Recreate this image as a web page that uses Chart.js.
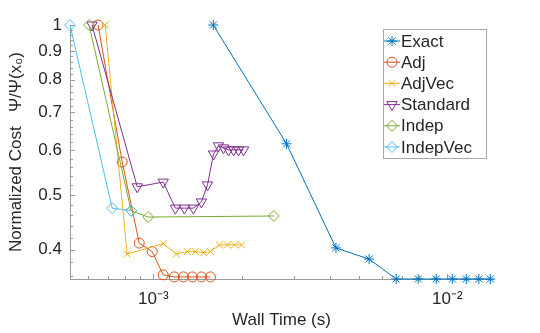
<!DOCTYPE html>
<html>
<head>
<meta charset="utf-8">
<script src="https://cdn.jsdelivr.net/npm/chart.js@4.4.1/dist/chart.umd.min.js"></script>
<style>
  html, body { margin: 0; padding: 0; background: #fff; }
</style>
</head>
<body>
<canvas id="costChart" width="540" height="333"></canvas>
<script>
// wall time (s) / normalized cost, one pair of arrays per method
const exactTime = [1.60e-3, 2.84e-3, 4.18e-3, 5.42e-3, 6.70e-3, 7.96e-3, 9.17e-3, 1.04e-2, 1.16e-2, 1.28e-2, 1.40e-2];
const exactCost = [1.0, 0.616, 0.403, 0.385, 0.355, 0.355, 0.355, 0.355, 0.355, 0.355, 0.355];

const adjTime = [6.49e-4, 7.84e-4, 8.96e-4, 9.92e-4, 1.081e-3, 1.179e-3, 1.266e-3, 1.358e-3, 1.458e-3, 1.565e-3];
const adjCost = [1.0, 0.572, 0.411, 0.397, 0.361, 0.358, 0.358, 0.358, 0.358, 0.358];

const adjVecTime = [6.86e-4, 8.15e-4, 1.081e-3, 1.198e-3, 1.306e-3, 1.390e-3, 1.483e-3, 1.565e-3, 1.680e-3, 1.789e-3, 1.890e-3, 1.996e-3];
const adjVecCost = [1.0, 0.393, 0.410, 0.393, 0.397, 0.397, 0.395, 0.397, 0.408, 0.408, 0.408, 0.408];

const standardTime = [6.19e-4, 8.82e-4, 1.081e-3, 1.189e-3, 1.276e-3, 1.369e-3, 1.458e-3, 1.529e-3, 1.603e-3, 1.666e-3, 1.733e-3, 1.803e-3, 1.876e-3, 1.950e-3, 2.028e-3];
const standardCost = [1.0, 0.517, 0.527, 0.474, 0.474, 0.474, 0.486, 0.521, 0.591, 0.611, 0.606, 0.601, 0.601, 0.601, 0.601];

const indepTime = [6.05e-4, 8.41e-4, 9.61e-4, 2.569e-3];
const indepCost = [1.0, 0.469, 0.457, 0.459];

const indepVecTime = [5.21e-4, 7.25e-4, 8.41e-4];
const indepVecCost = [1.0, 0.474, 0.469];

const seriesNames = ['Exact', 'Adj', 'AdjVec', 'Standard', 'Indep', 'IndepVec'];

// axes
const xMin = 5.21e-4, xMax = 1.43e-2;
const yMin = 0.355, yMax = 1.0;
const xTickValues = [1e-3, 1e-2];
const xTickLabels = ['10\u207B\u00B3', '10\u207B\u00B2'];
const yTickValues = [0.4, 0.5, 0.6, 0.7, 0.8, 0.9, 1.0];
const yTickLabels = ['0.4', '0.5', '0.6', '0.7', '0.8', '0.9', '1'];
const xMinorTicks = [6e-4, 7e-4, 8e-4, 9e-4, 2e-3, 3e-3, 4e-3, 5e-3, 6e-3, 7e-3, 8e-3, 9e-3];
const yMinorTicks = [0.36, 0.38, 0.42, 0.44, 0.46, 0.48, 0.52, 0.54, 0.56, 0.58,
                     0.62, 0.64, 0.66, 0.68, 0.72, 0.74, 0.76, 0.78, 0.82, 0.84, 0.86, 0.88,
                     0.92, 0.94, 0.96, 0.98];

const FONT = '"Liberation Sans", Arial, Helvetica, sans-serif';
const TEXT = '#262626';
const AXIS = '#9a9a9a';

function pts(xs, ys) {
  return xs.map((x, i) => ({ x: x, y: ys[i] }));
}

const styles = [
  { color: '#0072BD', pointStyle: 'star', radius: 5, rotation: 0 },
  { color: '#D95319', pointStyle: 'circle', radius: 5, rotation: 0 },
  { color: '#EDB120', pointStyle: 'crossRot', radius: 5, rotation: 0 },
  { color: '#7E2F8E', pointStyle: 'triangle', radius: 6, rotation: 180 },
  { color: '#77AC30', pointStyle: 'rectRot', radius: 5.5, rotation: 0 },
  { color: '#4DBEEE', pointStyle: 'rectRot', radius: 5.5, rotation: 0 }
];

const seriesData = [
  pts(exactTime, exactCost),
  pts(adjTime, adjCost),
  pts(adjVecTime, adjVecCost),
  pts(standardTime, standardCost),
  pts(indepTime, indepCost),
  pts(indepVecTime, indepVecCost)
];

const datasets = seriesData.map((d, i) => ({
  label: seriesNames[i],
  data: d,
  borderColor: styles[i].color,
  backgroundColor: 'rgba(0,0,0,0)',
  borderWidth: 1,
  pointStyle: styles[i].pointStyle,
  pointRadius: styles[i].radius,
  pointRotation: styles[i].rotation,
  pointBorderColor: styles[i].color,
  pointBackgroundColor: 'rgba(0,0,0,0)',
  pointBorderWidth: 1,
  tension: 0,
  clip: false,
  order: seriesNames.length - i
}));

// MATLAB style ticks pointing into the plot
const inwardTicks = {
  id: 'inwardTicks',
  beforeDatasetsDraw(chart) {
    const { ctx, chartArea, scales } = chart;
    ctx.save();
    ctx.strokeStyle = AXIS;
    ctx.lineWidth = 1;
    ctx.beginPath();
    xTickValues.concat(xMinorTicks).forEach(v => {
      const px = Math.round(scales.x.getPixelForValue(v)) + 0.5;
      const len = xTickValues.includes(v) ? 5 : 3;
      ctx.moveTo(px, chartArea.bottom);
      ctx.lineTo(px, chartArea.bottom - len);
    });
    yTickValues.concat(yMinorTicks).forEach(v => {
      const py = Math.round(scales.y.getPixelForValue(v)) + 0.5;
      const len = yTickValues.includes(v) ? 5 : 3;
      ctx.moveTo(chartArea.left, py);
      ctx.lineTo(chartArea.left + len, py);
    });
    ctx.stroke();
    ctx.restore();
  }
};

// boxed legend inside the axes, top right
const boxLegend = {
  id: 'boxLegend',
  afterDraw(chart) {
    const { ctx, chartArea } = chart;
    const rowH = 21.2;
    const sets = chart.data.datasets;
    ctx.save();
    ctx.font = '17px ' + FONT;
    const textW = Math.max(...sets.map(d => ctx.measureText(d.label).width));
    const w = Math.max(18 + textW + 8, 103);
    const h = sets.length * rowH + 2;
    const x0 = chartArea.right - 7 - w;
    const y0 = chartArea.top + 4;
    ctx.fillStyle = '#fff';
    ctx.fillRect(x0, y0, w, h);
    ctx.strokeStyle = '#a8a8a8';
    ctx.lineWidth = 1;
    ctx.strokeRect(Math.round(x0) + 0.5, Math.round(y0) + 0.5, Math.round(w), Math.round(h));
    sets.forEach((d, i) => {
      const cy = y0 + 12 + i * rowH;
      ctx.strokeStyle = d.borderColor;
      ctx.lineWidth = 1;
      ctx.beginPath();
      ctx.moveTo(x0 + 1, cy);
      ctx.lineTo(x0 + 17, cy);
      ctx.stroke();
      ctx.fillStyle = 'rgba(0,0,0,0)';
      Chart.helpers.drawPoint(ctx, {
        pointStyle: d.pointStyle,
        radius: d.pointRadius,
        rotation: d.pointRotation,
        borderWidth: 1
      }, x0 + 9, cy);
      ctx.fillStyle = TEXT;
      ctx.textBaseline = 'middle';
      ctx.textAlign = 'left';
      ctx.fillText(d.label, x0 + 18, cy + 1);
    });
    ctx.restore();
  }
};

const chartEl = document.getElementById('costChart');
const costChart = new Chart(chartEl, {
  type: 'line',
  data: { datasets: datasets },
  options: {
    responsive: false,
    animation: false,
    devicePixelRatio: 1,
    layout: { padding: { left: 0, right: 47, top: 25, bottom: 0 } },
    plugins: {
      legend: { display: false },
      tooltip: { enabled: false }
    },
    scales: {
      x: {
        type: 'logarithmic',
        min: xMin,
        max: xMax,
        afterBuildTicks: s => { s.ticks = xTickValues.map(v => ({ value: v })); },
        afterFit: s => { s.height = 54; },
        grid: { display: false, drawTicks: false },
        border: { display: true, color: AXIS, width: 1 },
        ticks: {
          autoSkip: false,
          maxRotation: 0,
          padding: 10,
          color: TEXT,
          font: { family: FONT, size: 17 },
          callback: v => xTickLabels[xTickValues.indexOf(v)] || ''
        },
        title: {
          display: true,
          text: 'Wall Time (s)',
          color: TEXT,
          font: { family: FONT, size: 17 },
          padding: { top: 0, bottom: 2 }
        }
      },
      y: {
        type: 'logarithmic',
        min: yMin,
        max: yMax,
        afterBuildTicks: s => { s.ticks = yTickValues.map(v => ({ value: v })); },
        afterFit: s => { s.width = 70; },
        grid: { display: false, drawTicks: false },
        border: { display: true, color: AXIS, width: 1 },
        ticks: {
          autoSkip: false,
          padding: 8,
          color: TEXT,
          font: { family: FONT, size: 17 },
          callback: v => {
            const k = yTickValues.findIndex(t => Math.abs(t - v) < 1e-9);
            return k >= 0 ? yTickLabels[k] : '';
          }
        },
        title: {
          display: true,
          text: 'Normalized Cost   \u03A8/\u03A8(x\u2080)',
          color: TEXT,
          font: { family: FONT, size: 17 },
          padding: { top: 6, bottom: 0 }
        }
      }
    }
  },
  plugins: [inwardTicks, boxLegend]
});
</script>
</body>
</html>
